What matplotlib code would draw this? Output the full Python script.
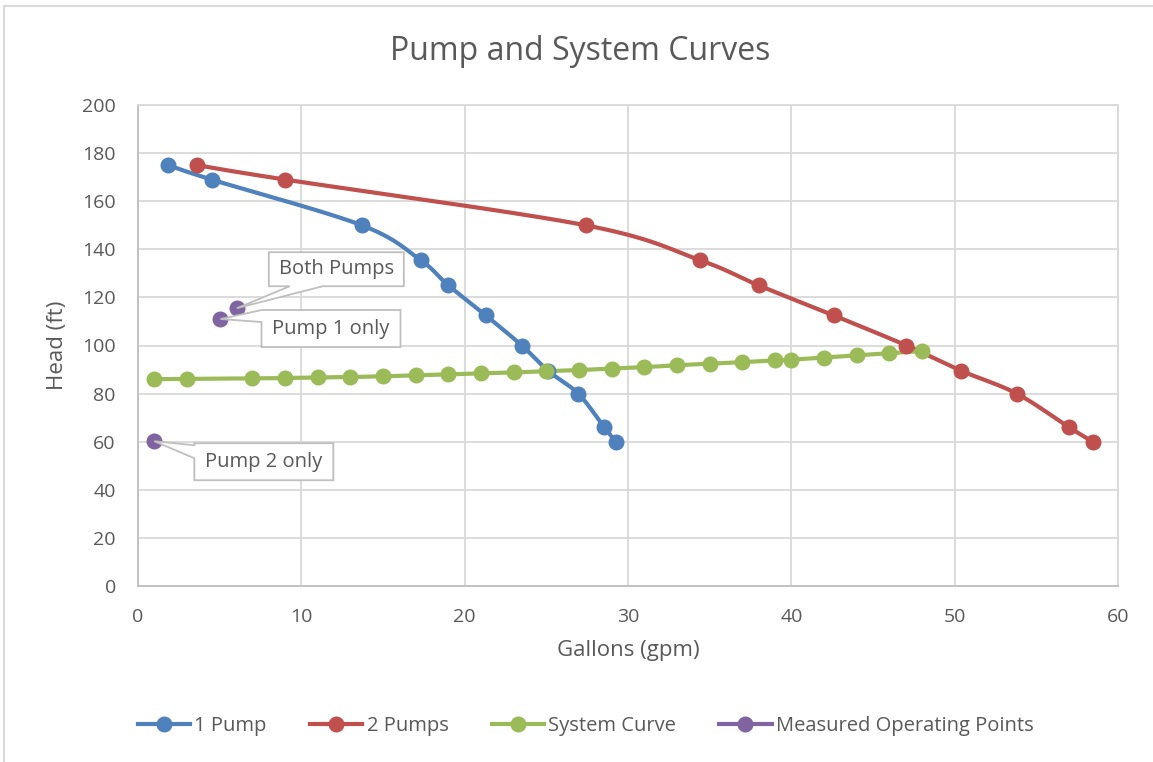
import numpy as np
import matplotlib
matplotlib.use('Agg')
import matplotlib.pyplot as plt
from matplotlib.lines import Line2D
from matplotlib.patches import Polygon

plt.rcParams['font.family'] = ['Open Sans', 'DejaVu Sans']

# data
head = [175, 169, 150, 135.5, 125, 112.5, 100, 89.5, 80, 66, 60]
q_one = [1.85, 4.5, 13.7, 17.3, 19.0, 21.3, 23.5, 25.1, 26.95, 28.55, 29.25]
q_two = [3.6, 9.0, 27.4, 34.4, 38.0, 42.6, 47.05, 50.4, 53.8, 57.0, 58.45]

q_sys = [1, 3, 7, 9, 11, 13, 15, 17, 19, 21, 23, 25, 27, 29, 31, 33, 35, 37, 39, 40, 42, 44, 46, 48]
h_sys = [86.0, 86.1, 86.3, 86.5, 86.7, 86.9, 87.2, 87.6, 88.0, 88.4, 88.8, 89.3, 89.8,
         90.4, 91.0, 91.8, 92.4, 93.1, 93.8, 94.1, 95.0, 95.9, 96.8, 97.7]

q_meas = [1.0, 5.05, 6.05]
h_meas = [60.2, 111.0, 115.5]
meas_labels = ['Pump 2 only', 'Pump 1 only', 'Both Pumps']

BLUE, RED, GREEN, PURPLE = '#4f81bd', '#c0504d', '#9bbb59', '#8064a2'
TXT = '#595959'; GRID = '#d9d9d9'

def smooth(x, y, n=30):
    # excel-like smoothed line: bezier with catmull-rom control points
    P = np.column_stack([x, y]).astype(float)
    P = np.vstack([P[0], P, P[-1]])
    out = []
    t = np.linspace(0, 1, n)[:, None]
    for i in range(1, len(P) - 2):
        p0, p1 = P[i], P[i + 1]
        c1 = p0 + (P[i + 1] - P[i - 1]) / 6
        c2 = p1 - (P[i + 2] - P[i]) / 6
        out.append((1-t)**3*p0 + 3*(1-t)**2*t*c1 + 3*(1-t)*t**2*c2 + t**3*p1)
    out = np.vstack(out)
    return out[:, 0], out[:, 1]

fig = plt.figure(figsize=(11.53, 7.62), dpi=100)
ax = fig.add_axes([138/1153, 1-586/762, 980/1153, 481/762])

lw = 3.0; ms = 10.5
for q, h, c in [(q_one, head, BLUE), (q_two, head, RED), (q_sys, h_sys, GREEN)]:
    sx, sy = smooth(q, h)
    ax.plot(sx, sy, color=c, lw=lw, solid_capstyle='round', zorder=3)
    ax.plot(q, h, 'o', color=c, ms=ms, mec=c, zorder=4)
ax.plot(q_meas, h_meas, 'o', color=PURPLE, ms=ms, mec=PURPLE, zorder=6)

ax.set_xlim(0, 60); ax.set_ylim(0, 200)
ax.set_xticks(range(0, 61, 10)); ax.set_yticks(range(0, 201, 20))
ax.grid(True, color=GRID, lw=1.3)
ax.set_axisbelow(True)
for s in ax.spines.values(): s.set_color(GRID); s.set_linewidth(1.3)
ax.spines['left'].set_color('#bfbfbf'); ax.spines['bottom'].set_color('#bfbfbf')
ax.tick_params(length=0, labelsize=14, labelcolor=TXT)
ax.tick_params(axis='y', pad=16)
ax.tick_params(axis='x', pad=16)
ax.set_xlabel('Gallons (gpm)', fontsize=16, color=TXT, labelpad=10)
ax.set_ylabel('Head (ft)', fontsize=16, color=TXT, labelpad=10)
fig.text(0.503, 1-52/762, 'Pump and System Curves', ha='center', va='center', fontsize=23, color=TXT)

# callout boxes (pixel offsets from the point: box x0,x1,y0,y1 and wedge base)
callouts = {
    'Both Pumps': ((32, 167, 22, 56), [(86, 22), (53, 22)], 'bottom'),
    'Pump 1 only': ((41, 180, -28, 9), [(41, 9), (41, -3)], 'left'),
    'Pump 2 only': ((40, 179, -39, -2), [(40, -4), (40, -17)], 'left'),
}
fig.canvas.draw()
for q, h, lab in zip(q_meas, h_meas, meas_labels):
    (x0, x1, y0, y1), base, side = callouts[lab]
    px, py = ax.transData.transform((q, h))
    if side == 'bottom':
        verts = [(x0, y0), base[1], (0, 0), base[0], (x1, y0), (x1, y1), (x0, y1)]
    else:
        verts = [(x0, y1), base[0], (0, 0), base[1], (x0, y0), (x1, y0), (x1, y1)]
    verts = [(px + a, py + b) for a, b in verts]
    fig.patches.append(Polygon(verts, closed=True, transform=None, fc='white',
                               ec='#bfbfbf', lw=1.3, zorder=5))
    fx, fy = fig.transFigure.inverted().transform((px + (x0 + x1) / 2, py + (y0 + y1) / 2))
    fig.text(fx, fy, lab, ha='center', va='center', fontsize=14.5, color=TXT, zorder=7)

handles = [Line2D([], [], color=c, lw=lw, marker='o', ms=ms) for c in (BLUE, RED, GREEN, PURPLE)]
fig.legend(handles, ['1 Pump', '2 Pumps', 'System Curve', 'Measured Operating Points'],
           loc='center', bbox_to_anchor=(0.508, 1-726/762), ncol=4, frameon=False,
           fontsize=14.5, labelcolor=TXT, handlelength=2.6, handletextpad=0.2, columnspacing=2.15)

# chart border (left and top visible)
fig.add_artist(Line2D([4/1153, 4/1153], [0, 1-6/762], color='#d9d9d9', lw=1.5))
fig.add_artist(Line2D([4/1153, 1], [1-6/762, 1-6/762], color='#d9d9d9', lw=1.5))

fig.savefig('out.png', dpi=100)
